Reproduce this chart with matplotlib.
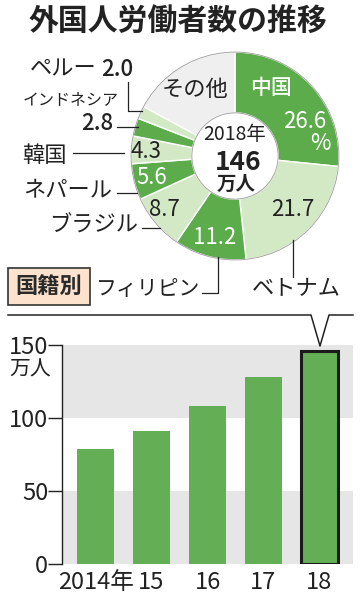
import matplotlib
matplotlib.use("Agg")
import matplotlib.pyplot as plt
from matplotlib.patches import Circle, Rectangle

plt.rcParams['font.family'] = ['Noto Sans CJK JP', 'DejaVu Sans']

# ---- data ----
countries = ['中国', 'ベトナム', 'フィリピン', 'ブラジル', 'ネパール', '韓国', 'インドネシア', 'ペルー', 'その他']
shares = [26.6, 21.7, 11.2, 8.7, 5.6, 4.3, 2.8, 2.0, 17.1]
total_year = '2018年'
total_value = '146'
total_unit = '万人'
years = ['2014年', '15', '16', '17', '18']
workers = [78.8, 90.8, 108.4, 127.9, 146.0]
yticks = [0, 50, 100, 150]

DARK = '#5cac4c'
LIGHT = '#d3e8c5'
OTHER = '#efefef'
BAR = '#64ae55'
BAND = '#e6e6e6'

W, H = 360, 600
fig = plt.figure(figsize=(3.6, 6), dpi=100)
fig.patch.set_facecolor('white')


def px_axes(l, t, w, h, **kw):
    return fig.add_axes([l / W, 1 - (t + h) / H, w / W, h / H], **kw)


# ---- donut ----
pax = px_axes(129, 50, 212, 212)
colors = [DARK if i % 2 == 0 else LIGHT for i in range(len(shares) - 1)] + [OTHER]
wedges, _ = pax.pie(shares, radius=1, startangle=90, counterclock=False, colors=colors,
                    wedgeprops=dict(width=0.585, edgecolor='white', linewidth=1.0))
pax.add_patch(Circle((0, 0), 1.0, fill=False, edgecolor='#9a9a9a', linewidth=0.6))
pax.add_patch(Circle((0, 0), 0.415, fill=False, edgecolor='#9a9a9a', linewidth=0.6))
pax.set_xlim(-1.02, 1.02)
pax.set_ylim(-1.02, 1.02)
pax.set_aspect('equal')
pax.axis('off')

# ---- bars ----
bax = px_axes(62, 345, 291, 219)
bax.axhspan(0, 50, color=BAND, zorder=0, lw=0)
bax.axhspan(100, 150, color=BAND, zorder=0, lw=0)
x = list(range(len(years)))
bars = bax.bar(x, workers, width=0.66, color=BAR, zorder=2, linewidth=0)
bars[-1].set_edgecolor('#1a1a1a')
bars[-1].set_linewidth(2.2)
bax.set_xlim(-0.6, 4.6)
bax.set_ylim(0, 150)
bax.set_yticks(yticks)
bax.set_yticklabels([str(v) for v in yticks], fontsize=17)
bax.set_xticks(x)
bax.set_xticklabels(years, fontsize=17)
bax.tick_params(axis='y', length=10, width=1, pad=0, colors='#222222')
bax.tick_params(axis='x', length=0, pad=5, colors='#222222')
for s in ['top', 'right', 'bottom']:
    bax.spines[s].set_visible(False)
bax.spines['left'].set_color('#222222')
bax.spines['left'].set_linewidth(1)
bax.set_facecolor('white')

# ---- overlay for annotations ----
ov = fig.add_axes([0, 0, 1, 1], zorder=5)
ov.set_xlim(0, W)
ov.set_ylim(H, 0)
ov.axis('off')

TXT = '#222222'
ov.text(178, 21, '外国人労働者数の推移', ha='center', va='center', fontsize=21.5,
        weight='bold', color=TXT)

lab = dict(ha='center', va='center', color=TXT)
NUM = 16
# inside labels
ov.text(271, 88, countries[0], fontsize=15, color='white', ha='center', va='center', weight='medium')
ov.text(305, 122, f'{shares[0]}', fontsize=NUM, color='white', ha='center', va='center')
ov.text(320, 144, '%', fontsize=NUM, color='white', ha='center', va='center')
ov.text(293, 209, f'{shares[1]}', fontsize=NUM, **lab)
ov.text(215, 237, f'{shares[2]}', fontsize=NUM, color='white', ha='center', va='center')
ov.text(164, 209, f'{shares[3]}', fontsize=NUM, **lab)
ov.text(152, 177, f'{shares[4]}', fontsize=NUM, color='white', ha='center', va='center')
ov.text(146, 152, f'{shares[5]}', fontsize=NUM, **lab)
ov.text(195, 89, countries[8], fontsize=16, **lab)

# center
ov.text(235, 134, total_year, fontsize=14, **lab)
ov.text(238, 162, total_value, fontsize=19, weight='bold', ha='center', va='center', color=TXT)
ov.text(236, 184, total_unit, fontsize=14, weight='bold', ha='center', va='center', color=TXT)

# outside labels
LBL = 16
ov.text(97, 69, countries[7], fontsize=LBL, ha='right', va='center', color=TXT)
ov.text(117, 69, f'{shares[7]}', fontsize=NUM, weight='medium', ha='center', va='center', color=TXT)
ov.plot([128, 128, 142], [82, 111, 111], color=TXT, lw=0.9)

ov.text(71, 100, countries[6], fontsize=11.5, ha='center', va='center', color=TXT)
ov.text(113, 124, f'{shares[6]}', fontsize=NUM, weight='medium', ha='right', va='center', color=TXT)
ov.plot([117, 138], [127, 127], color=TXT, lw=0.9)

ov.text(44, 155, countries[5], fontsize=LBL, ha='center', va='center', color=TXT)
ov.plot([73, 124], [153, 153], color=TXT, lw=0.9)

ov.text(112, 190, countries[4], fontsize=LBL, ha='right', va='center', color=TXT)
ov.plot([117, 137], [193, 193], color=TXT, lw=0.9)

ov.text(138, 225, countries[3], fontsize=LBL, ha='right', va='center', color=TXT)
ov.plot([142, 160], [228, 228], color=TXT, lw=0.9)

ov.text(200, 289, countries[2], fontsize=15, ha='right', va='center', color=TXT)
ov.plot([202, 218, 218], [293, 293, 257], color=TXT, lw=0.9)

ov.text(296, 289, countries[1], fontsize=LBL, ha='center', va='center', color=TXT)
ov.plot([293, 293], [240, 277], color=TXT, lw=0.9)

# 国籍別 box
ov.add_patch(Rectangle((8, 268), 82, 37, facecolor='#fde3cd', edgecolor='#333333', lw=1.2))
ov.text(49, 286.5, '国籍別', fontsize=16, weight='bold', ha='center', va='center', color='#2a2a2a')

# callout line
ov.plot([8, 311, 320, 329, 353], [315, 315, 346, 315, 315], color=TXT, lw=1.1)

# unit
ov.text(30, 370, '万人', fontsize=15, ha='center', va='center', color=TXT)

fig.savefig('out.png', dpi=100, facecolor='white')
